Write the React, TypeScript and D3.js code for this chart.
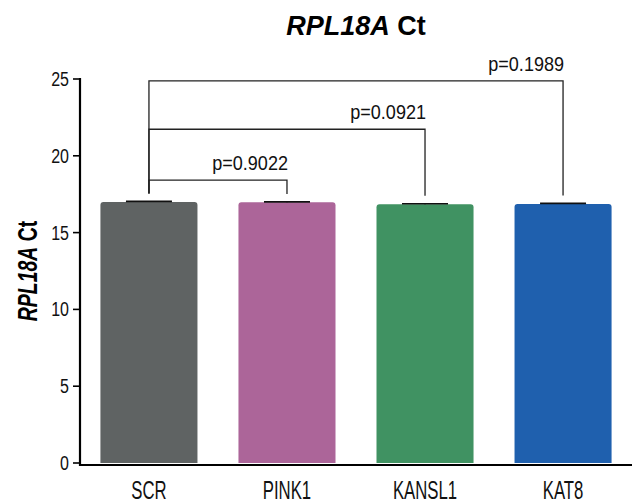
import React from 'react';
import * as d3 from 'd3';

const categories = ['SCR', 'PINK1', 'KANSL1', 'KAT8'];
const means = [17.0, 16.97, 16.85, 16.87];
const sds = [0.03, 0.03, 0.03, 0.03];
const colors = ['#5f6363', '#ac6599', '#409262', '#1f60ae'];
const yTicks = [0, 5, 10, 15, 20, 25];

// comparisons against SCR: target index, p label, bracket height (axis units)
const compTo = [1, 2, 3];
const compP = ['p=0.9022', 'p=0.0921', 'p=0.1989'];
const compLevel = [18.42, 21.73, 24.88];

const W = 632;
const H = 504;
const font = 'Liberation Sans, Arial, sans-serif';

const App = () => {
  const x = d3.scaleBand<string>()
    .domain(categories)
    .range([80, 632])
    .paddingInner(0.297)
    .paddingOuter(0.148);

  const y = d3.scaleLinear().domain([0, 25]).range([463, 79]);

  const cx = (i: number) => (x(categories[i]) as number) + x.bandwidth() / 2;
  const capW = 46;

  const barPath = (i: number) => {
    const x0 = x(categories[i]) as number;
    const x1 = x0 + x.bandwidth();
    const y0 = y(0);
    const y1 = y(means[i]);
    const r = 3;
    return `M${x0},${y0}V${y1 + r}Q${x0},${y1} ${x0 + r},${y1}H${x1 - r}Q${x1},${y1} ${x1},${y1 + r}V${y0}Z`;
  };

  return (
    <svg width={W} height={H} style={{ position: 'absolute', left: 0, top: 0, background: '#fff' }}
      fontFamily={font}>
      {/* title */}
      <text x={356} y={35} textAnchor="middle" fontSize={27} fontWeight="bold" fill="#000">
        <tspan fontStyle="italic">RPL18A</tspan> Ct
      </text>

      {/* bars */}
      {categories.map((c, i) => (
        <path key={c} d={barPath(i)} fill={colors[i]} />
      ))}

      {/* error bars */}
      {categories.map((c, i) => (
        <g key={c + '-err'} stroke="#111" strokeWidth={1.6}>
          <line x1={cx(i)} x2={cx(i)} y1={y(means[i])} y2={y(means[i] + sds[i])} />
          <line x1={cx(i) - capW / 2} x2={cx(i) + capW / 2}
            y1={y(means[i] + sds[i])} y2={y(means[i] + sds[i])} />
        </g>
      ))}

      {/* significance brackets */}
      {compTo.map((t, k) => {
        const yl = y(compLevel[k]);
        const xa = cx(0);
        const xb = cx(t);
        return (
          <g key={'br' + k}>
            <path
              d={`M${xa},${y(means[0] + 0.55)}V${yl}H${xb}V${y(means[t] + 0.55)}`}
              fill="none" stroke="#222" strokeWidth={1.3} />
            <text transform={`translate(${xb + 1},${yl - 10}) scale(0.86,1)`}
              textAnchor="end" fontSize={21} fill="#111">{compP[k]}</text>
          </g>
        );
      })}

      {/* y axis */}
      <line x1={80} x2={80} y1={y(25) - 1} y2={466} stroke="#000" strokeWidth={2.2} />
      {yTicks.map(t => (
        <g key={'yt' + t}>
          <line x1={73} x2={80} y1={y(t)} y2={y(t)} stroke="#000" strokeWidth={1.6} />
          <text transform={`translate(69,${y(t) + 7}) scale(0.8,1)`}
            textAnchor="end" fontSize={20} fill="#111">{t}</text>
        </g>
      ))}

      {/* x axis */}
      <line x1={79} x2={632} y1={465} y2={465} stroke="#000" strokeWidth={2.2} />
      {categories.map((c, i) => (
        <text key={c + '-lbl'} transform={`translate(${cx(i)},499) scale(0.67,1)`}
          textAnchor="middle" fontSize={25} fill="#111">{c}</text>
      ))}

      {/* y label */}
      <text transform={`translate(37,271) rotate(-90) scale(0.72,1)`} textAnchor="middle"
        fontSize={27} fontWeight="bold" fill="#000">
        <tspan fontStyle="italic">RPL18A</tspan> Ct
      </text>
    </svg>
  );
};

export default App;
